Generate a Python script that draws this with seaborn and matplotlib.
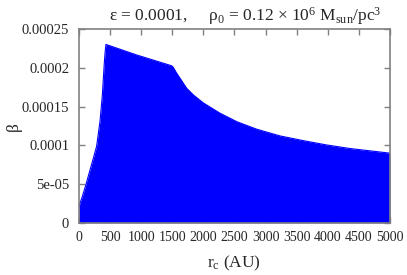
import matplotlib
matplotlib.use("Agg")
import matplotlib.pyplot as plt
import seaborn as sns
import pandas as pd

# values
r_c = [0, 16, 50, 100, 177, 230, 284, 338, 375, 407, 420, 434,
       927, 1490, 1516, 1570, 1624, 1731, 1838, 1999, 2267, 2535, 2857,
       3232, 3607, 3982, 4357, 4732, 5000]
beta = [2.0e-5, 2.5e-5, 3.3e-5, 4.6e-5, 6.8e-5, 8.3e-5, 9.9e-5, 1.31e-4,
        1.64e-4, 2.06e-4, 2.2e-4, 2.306e-4,
        2.17e-4, 2.03e-4, 2.01e-4, 1.935e-4, 1.87e-4, 1.74e-4, 1.654e-4,
        1.55e-4, 1.417e-4, 1.308e-4, 1.21e-4, 1.123e-4, 1.062e-4,
        1.006e-4, 9.6e-5, 9.25e-5, 9.0e-5]
x_ticks = list(range(0, 5001, 500))
y_ticks = [0, 5e-5, 1e-4, 1.5e-4, 2e-4, 2.5e-4]
y_tick_labels = ["0", "5e-05", "0.0001", "0.00015", "0.0002", "0.00025"]

df = pd.DataFrame({"rc": r_c, "beta": beta})

sns.set_style("white")
plt.rcParams["font.family"] = ["Liberation Serif", "DejaVu Serif"]
plt.rcParams["mathtext.fontset"] = "custom"
plt.rcParams["mathtext.rm"] = "Liberation Serif"
plt.rcParams["mathtext.it"] = "Liberation Serif:italic"

fig = plt.figure(figsize=(4.07, 2.75), dpi=100)
ax = fig.add_axes([0.194, 0.19, 0.764, 0.703])

sns.lineplot(data=df, x="rc", y="beta", color="#0000ff", linewidth=0.8, ax=ax)
ax.fill_between(df["rc"], 0, df["beta"], color="#0000ff", linewidth=0)

ax.set_xlim(0, 5000)
ax.set_ylim(0, 0.00025)
ax.set_xticks(x_ticks)
ax.set_xticklabels([str(t) for t in x_ticks])
ax.set_yticks(y_ticks)
ax.set_yticklabels(y_tick_labels)
ax.tick_params(axis="both", direction="in", length=4, width=1, color="#808080",
               pad=6, top=True, right=True, bottom=True, left=True)
ax.tick_params(axis="x", labelsize=10)
ax.tick_params(axis="y", labelsize=10.5, pad=7)
for s in ax.spines.values():
    s.set_color("#808080")
    s.set_linewidth(1.2)

ax.set_xlabel(r"r$_\mathrm{c}$ (AU)", fontsize=12.5)
ax.xaxis.set_label_coords(0.5, -0.16)
ax.set_ylabel("β", fontsize=12.5)
ax.yaxis.set_label_coords(-0.183, 0.5)
ax.set_title(r"ε = 0.0001,     ρ$_\mathrm{0}$ = 0.12 × 10$^\mathrm{6}$ M$_\mathrm{sun}$/pc$^\mathrm{3}$",
             fontsize=12.5, pad=6, x=0.535)

fig.savefig("out.png", dpi=100)
